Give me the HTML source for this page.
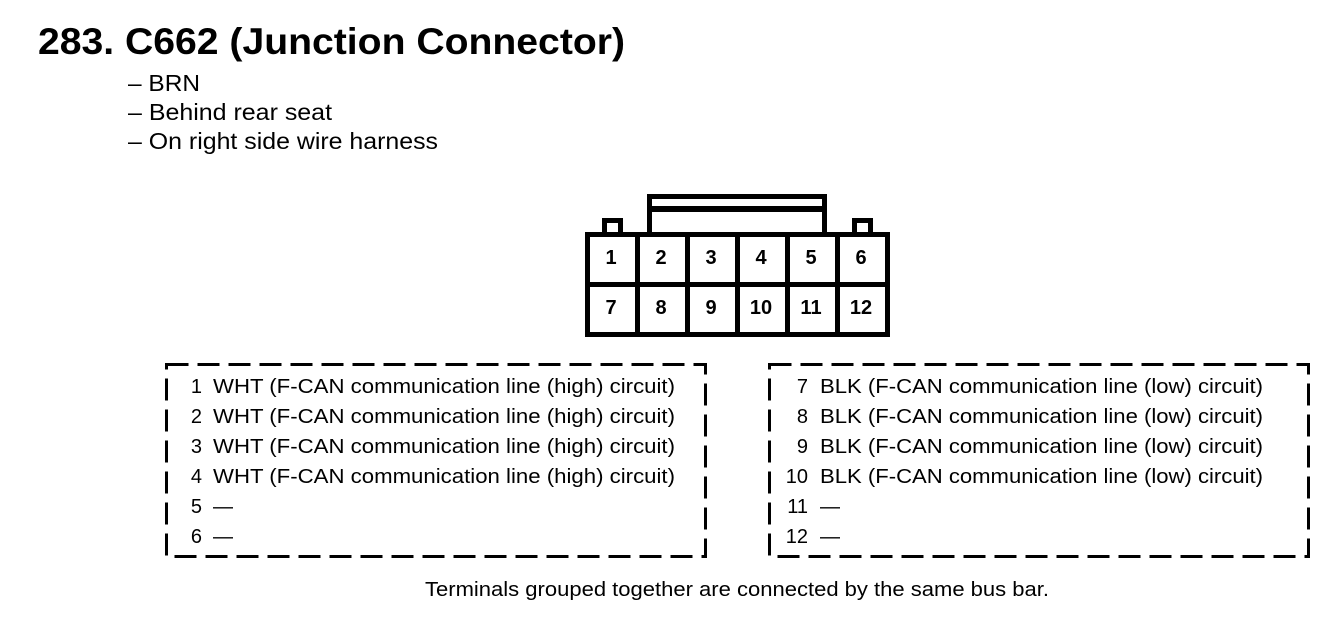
<!DOCTYPE html>
<html><head><meta charset="utf-8"><style>
html,body{margin:0;padding:0;background:#fff;}
svg{display:block;}
text{font-family:"Liberation Sans",Arial,sans-serif;fill:#000;}
</style></head><body>
<svg width="1344" height="638" viewBox="0 0 1344 638" xmlns="http://www.w3.org/2000/svg">
<text x="38" y="54" font-size="37" font-weight="bold" textLength="587" lengthAdjust="spacingAndGlyphs">283. C662 (Junction Connector)</text>
<text x="128" y="91" font-size="23" textLength="72" lengthAdjust="spacingAndGlyphs">– BRN</text>
<text x="128" y="120" font-size="23" textLength="204" lengthAdjust="spacingAndGlyphs">– Behind rear seat</text>
<text x="128" y="149" font-size="23" textLength="310" lengthAdjust="spacingAndGlyphs">– On right side wire harness</text>

<g fill="none" stroke="#000" stroke-width="5">
  <rect x="649.5" y="196.5" width="175" height="40"/>
  <line x1="649" y1="209" x2="825" y2="209" stroke-width="6"/>
  <rect x="587.5" y="234.5" width="300" height="100" fill="#fff"/>
  <path d="M604.5 234 V220.5 H620.5 V234"/>
  <path d="M854.5 234 V220.5 H870.5 V234"/>
  <line x1="587" y1="284.5" x2="888" y2="284.5"/>
  <line x1="637.5" y1="234" x2="637.5" y2="335"/>
  <line x1="687.5" y1="234" x2="687.5" y2="335"/>
  <line x1="737.5" y1="234" x2="737.5" y2="335"/>
  <line x1="787.5" y1="234" x2="787.5" y2="335"/>
  <line x1="837.5" y1="234" x2="837.5" y2="335"/>
</g>
<g font-size="20" font-weight="bold" text-anchor="middle">
<text x="611" y="264">1</text><text x="661" y="264">2</text><text x="711" y="264">3</text><text x="761" y="264">4</text><text x="811" y="264">5</text><text x="861" y="264">6</text>
<text x="611" y="314">7</text><text x="661" y="314">8</text><text x="711" y="314">9</text><text x="761" y="314">10</text><text x="811" y="314">11</text><text x="861" y="314">12</text>
</g>

<g fill="none" stroke="#000" stroke-width="3" stroke-dasharray="22 9">
  <rect x="166.5" y="364.5" width="539" height="192"/>
  <rect x="769.5" y="364.5" width="539" height="192"/>
</g>

<g font-size="20">
<g text-anchor="end">
<text x="202" y="393">1</text><text x="202" y="423">2</text><text x="202" y="453">3</text><text x="202" y="483">4</text><text x="202" y="513">5</text><text x="202" y="543">6</text>
<text x="808" y="393">7</text><text x="808" y="423">8</text><text x="808" y="453">9</text><text x="808" y="483">10</text><text x="808" y="513">11</text><text x="808" y="543">12</text>
</g>
<text x="213" y="393" textLength="462" lengthAdjust="spacingAndGlyphs">WHT (F-CAN communication line (high) circuit)</text>
<text x="213" y="423" textLength="462" lengthAdjust="spacingAndGlyphs">WHT (F-CAN communication line (high) circuit)</text>
<text x="213" y="453" textLength="462" lengthAdjust="spacingAndGlyphs">WHT (F-CAN communication line (high) circuit)</text>
<text x="213" y="483" textLength="462" lengthAdjust="spacingAndGlyphs">WHT (F-CAN communication line (high) circuit)</text>
<text x="213" y="513">—</text><text x="213" y="543">—</text>
<text x="820" y="393" textLength="443" lengthAdjust="spacingAndGlyphs">BLK (F-CAN communication line (low) circuit)</text>
<text x="820" y="423" textLength="443" lengthAdjust="spacingAndGlyphs">BLK (F-CAN communication line (low) circuit)</text>
<text x="820" y="453" textLength="443" lengthAdjust="spacingAndGlyphs">BLK (F-CAN communication line (low) circuit)</text>
<text x="820" y="483" textLength="443" lengthAdjust="spacingAndGlyphs">BLK (F-CAN communication line (low) circuit)</text>
<text x="820" y="513">—</text><text x="820" y="543">—</text>
</g>
<text x="425" y="596" font-size="20" textLength="624" lengthAdjust="spacingAndGlyphs">Terminals grouped together are connected by the same bus bar.</text>
</svg>
</body></html>
